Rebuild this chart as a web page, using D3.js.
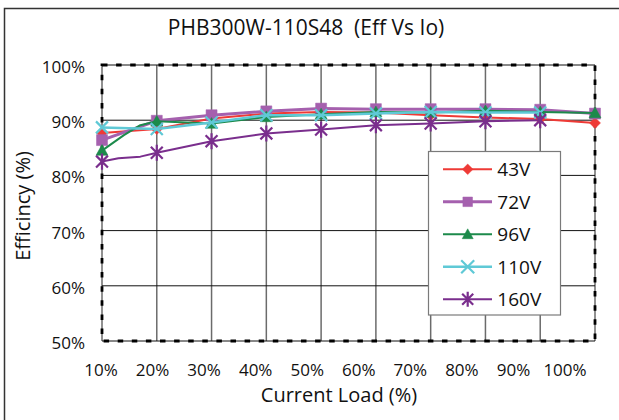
<!DOCTYPE html>
<html><head><meta charset="utf-8">
<script src="https://cdn.jsdelivr.net/npm/d3@7"></script>
<style>
body{margin:0;background:#fff;}
svg{display:block;font-family:"Open Sans",sans-serif;}
</style>
</head><body>
<svg id="c" width="619" height="420"></svg>
<script>
// ---- data ----
const loads = [10,20,30,40,50,60,70,80,90,100];
const loadLabels = ["10%","20%","30%","40%","50%","60%","70%","80%","90%","100%"];
const yTicks = [50,60,70,80,90,100];
const seriesNames = ["43V","72V","96V","110V","160V"];
const eff43  = [87.7,88.4,90.3,91.2,91.5,91.4,90.9,90.5,90.2,89.5];
const eff72  = [86.4,89.9,90.9,91.6,92.1,92.0,92.0,92.0,91.9,91.2];
const eff96  = [84.5,89.8,89.4,90.6,91.1,91.5,91.4,91.7,91.5,91.3];
const eff110 = [88.7,88.4,89.6,90.9,90.9,91.2,91.5,91.4,91.4];
const eff160 = [82.5,84.1,86.2,87.6,88.3,89.1,89.4,89.8,90.0];
// extra (unmarked) line points
const extra96  = [[14,87.3],[17,89.1]];
const extra160 = [[13,83.1],[17,83.4]];

const colors = ["#ee3a36","#a560ae","#1c8a4b","#5fc9d6","#7a2e8d"];
const lineW = [2,3,2,2.5,2];
const shapes = ["diamond","square","triangle","x","star"];

const svg = d3.select("#c");
const L = 102, R = 595, T = 65, B = 341;
const x = d3.scaleLinear().domain([10,100]).range([L,R]);
const y = d3.scaleLinear().domain([50,100]).range([B,T]);
const xLab = d3.scalePoint().domain(loadLabels).range([101,565]);

// outer frame
svg.append("rect").attr("x",4.5).attr("y",8.5).attr("width",700).attr("height",500)
  .attr("fill","none").attr("stroke","#333").attr("stroke-width",1.5);

// title
svg.append("text").attr("x",306).attr("y",35).attr("text-anchor","middle")
  .style("white-space","pre").attr("xml:space","preserve")
  .attr("font-size",21).attr("fill","#111").text("PHB300W-110S48  (Eff Vs Io)");

// gridlines
const g = svg.append("g");
g.selectAll("line.v").data(loads).enter().append("line")
  .attr("x1",d=>x(d)).attr("x2",d=>x(d)).attr("y1",T).attr("y2",B)
  .attr("stroke","#6b6b6b").attr("stroke-width",1.5);
g.selectAll("line.h").data(yTicks).enter().append("line")
  .attr("x1",L).attr("x2",R).attr("y1",d=>y(d)).attr("y2",d=>y(d))
  .attr("stroke","#111").attr("stroke-width",1);

// dashed plot border
svg.append("rect").attr("x",L).attr("y",T).attr("width",R-L).attr("height",B-T)
  .attr("fill","none").attr("stroke","#000").attr("stroke-width",2.8)
  .attr("stroke-dasharray","5.5,8.6");

// y tick labels
svg.append("g").selectAll("text").data(yTicks).enter().append("text")
  .attr("x",85).attr("y",d=>y(d)+8).attr("text-anchor","end")
  .attr("font-size",17).attr("fill","#111").text(d=>d+"%");

// x tick labels
svg.append("g").selectAll("text").data(loadLabels).enter().append("text")
  .attr("x",d=>xLab(d)).attr("y",376).attr("text-anchor","middle")
  .attr("font-size",17).attr("fill","#111").text(d=>d);

// axis titles
svg.append("text").attr("x",339).attr("y",402).attr("text-anchor","middle")
  .attr("font-size",20).attr("fill","#111").text("Current Load (%)");
svg.append("text").attr("transform","translate(30,206) rotate(-90)")
  .attr("text-anchor","middle").attr("font-size",20).attr("fill","#111").text("Efficincy (%)");

// marker paths
function markerPath(shape, r){
  switch(shape){
    case "diamond": return `M0,${-r}L${r},0L0,${r}L${-r},0Z`;
    case "square": return `M${-r},${-r}H${r}V${r}H${-r}Z`;
    case "triangle": return `M0,${-r}L${r},${r*0.8}L${-r},${r*0.8}Z`;
    case "x": return `M${-r},${-r}L${r},${r}M${-r},${r}L${r},${-r}`;
    case "star": return `M${-r*0.85},${-r*0.85}L${r*0.85},${r*0.85}M${-r*0.85},${r*0.85}L${r*0.85},${-r*0.85}M0,${-r*1.15}L0,${r*1.15}`;
  }
}
const filled = s => s==="diamond"||s==="square"||s==="triangle";
const plotR = [5.5,5.5,6,6,7];

const allEff = [eff43,eff72,eff96,eff110,eff160];
const extras = [[],[],extra96,[],extra160];
const line = d3.line().x(d=>x(d[0])).y(d=>y(d[1]));

allEff.forEach((vals,i)=>{
  const pts = vals.map((v,j)=>[loads[j],v]).concat(extras[i]).sort((a,b)=>a[0]-b[0]);
  const sg = svg.append("g");
  sg.append("path").datum(pts).attr("d",line).attr("fill","none")
    .attr("stroke",colors[i]).attr("stroke-width",lineW[i]).attr("stroke-linejoin","round");
  const mk = vals.map((v,j)=>[loads[j],v]);
  sg.selectAll("path.m").data(mk).enter().append("path")
    .attr("transform",d=>`translate(${x(d[0])},${y(d[1])})`)
    .attr("d",markerPath(shapes[i],plotR[i]))
    .attr("fill",filled(shapes[i])?colors[i]:"none")
    .attr("stroke",colors[i]).attr("stroke-width",filled(shapes[i])?0.5:2.2);
});

// legend
const lg = svg.append("g");
lg.append("rect").attr("x",428.5).attr("y",151.5).attr("width",132).attr("height",163.5)
  .attr("fill","#fff").attr("stroke","#7a7a7a").attr("stroke-width",1.2);
const legR = [5.3,4.8,5.5,6.5,6.5];
const rowY = d3.scalePoint().domain(seriesNames).range([169.3,299.3]);
seriesNames.forEach((n,i)=>{
  const yy = rowY(n);
  lg.append("line").attr("x1",443).attr("x2",492).attr("y1",yy).attr("y2",yy)
    .attr("stroke",colors[i]).attr("stroke-width",lineW[i]);
  lg.append("path").attr("transform",`translate(467.7,${yy})`)
    .attr("d",markerPath(shapes[i],legR[i]))
    .attr("fill",filled(shapes[i])?colors[i]:"none")
    .attr("stroke",colors[i]).attr("stroke-width",filled(shapes[i])?0.5:2.2);
  lg.append("text").attr("x",497.3).attr("y",yy+7).attr("font-size",19)
    .attr("fill","#111").text(n);
});
</script>
</body></html>
